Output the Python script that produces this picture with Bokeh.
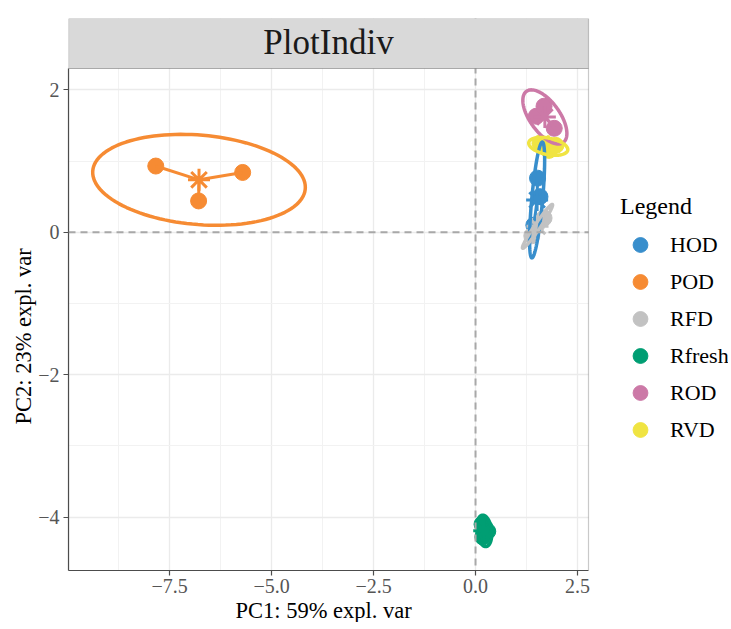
import numpy as np
from bokeh.plotting import figure
from bokeh.models import (Span, Legend, LegendItem, FixedTicker, Label,
                          BoxAnnotation, Title)
from bokeh.embed import file_html
from bokeh.resources import INLINE

# ---------------- data ----------------
groups = ["HOD", "POD", "RFD", "Rfresh", "ROD", "RVD"]
group_colors = ["#388ECC", "#F68B33", "#C2C2C2", "#009E73", "#CC79A7", "#F0E442"]

hod_pc1 = [1.52, 1.58, 1.43]
hod_pc2 = [0.76, 0.50, 0.10]
pod_pc1 = [-7.84, -5.71, -6.79]
pod_pc2 = [0.93, 0.84, 0.44]
rfd_pc1 = [1.68, 1.50, 1.38]
rfd_pc2 = [0.20, 0.10, -0.05]
rfresh_pc1 = [0.16, 0.30, 0.18]
rfresh_pc2 = [-4.10, -4.20, -4.28]
rod_pc1 = [1.49, 1.68, 1.93]
rod_pc2 = [1.63, 1.77, 1.46]
rvd_pc1 = [1.58, 1.80, 1.97]
rvd_pc2 = [1.25, 1.15, 1.22]

pc1_values = [hod_pc1, pod_pc1, rfd_pc1, rfresh_pc1, rod_pc1, rvd_pc1]
pc2_values = [hod_pc2, pod_pc2, rfd_pc2, rfresh_pc2, rod_pc2, rvd_pc2]

x_ticks = [-7.5, -5.0, -2.5, 0.0, 2.5]
x_tick_labels = ["\u22127.5", "\u22125.0", "\u22122.5", "0.0", "2.5"]
x_minor = [-8.75, -6.25, -3.75, -1.25, 1.25]
y_ticks = [2, 0, -2, -4]
y_tick_labels = ["2", "0", "\u22122", "\u22124"]
y_minor = [1, -1, -3]

title_text = "PlotIndiv"
x_title = "PC1: 59% expl. var"
y_title = "PC2: 23% expl. var"

FONT = "Liberation Serif"
ELLIPSE_T = np.sqrt(5.991464547)  # sqrt(qchisq(0.95, 2))

X_LO, X_HI = -9.98, 2.77
Y_LO, Y_HI = -4.75, 2.30
PANEL_W = 520
PANEL_H = 502
STRIP_H = 50
SIDE_W = 140  # room for the legend, right of the panel
Y_TOP = Y_HI + (Y_HI - Y_LO) * STRIP_H / PANEL_H
X_END = X_HI + (X_HI - X_LO) * SIDE_W / PANEL_W
BORDER = "#4D4D4D"


def conf_ellipse(x, y, n=120):
    x = np.asarray(x, float)
    y = np.asarray(y, float)
    c = np.cov(np.vstack([x, y]))
    vals, vecs = np.linalg.eigh(c)
    vals = np.clip(vals, 0, None)
    t = np.linspace(0, 2 * np.pi, n)
    circ = np.vstack([np.cos(t), np.sin(t)])
    pts = vecs @ (np.sqrt(vals)[:, None] * circ) * ELLIPSE_T
    return pts[0] + x.mean(), pts[1] + y.mean()


p = figure(frame_width=PANEL_W + SIDE_W, frame_height=PANEL_H + STRIP_H,
           x_range=(X_LO, X_END), y_range=(Y_LO, Y_TOP),
           output_backend="svg", toolbar_location=None,
           min_border_left=68, min_border_top=18, min_border_right=0,
           min_border_bottom=0, background_fill_color="white",
           border_fill_color="white")

p.outline_line_color = None

for ax in (p.xaxis[0], p.yaxis[0]):
    ax.axis_line_color = BORDER
    ax.axis_line_width = 1.2
    ax.major_tick_line_color = BORDER
    ax.major_tick_line_width = 1.2
    ax.major_tick_out = 5
    ax.major_tick_in = 0
    ax.minor_tick_line_color = None
    ax.major_label_text_font = FONT
    ax.major_label_text_font_size = "20px"
    ax.major_label_text_color = "#555555"

p.xaxis.bounds = (X_LO, X_HI)
p.yaxis.bounds = (Y_LO, Y_HI)
p.xaxis.ticker = FixedTicker(ticks=x_ticks, minor_ticks=x_minor)
p.yaxis.ticker = FixedTicker(ticks=y_ticks, minor_ticks=y_minor)
p.xaxis.major_label_overrides = dict(zip(x_ticks, x_tick_labels))
p.yaxis.major_label_overrides = dict(zip(y_ticks, y_tick_labels))
p.xaxis.major_label_standoff = 3
p.yaxis.major_label_standoff = 4

# axis titles, centred on the panel (not on the legend area)
p.add_layout(Title(text=x_title, align="left", offset=167, standoff=0,
                   text_font=FONT, text_font_size="22.5px",
                   text_font_style="normal", text_color="#000000"), "below")
p.add_layout(Title(text=y_title, align="left", offset=146, standoff=0,
                   text_font=FONT, text_font_size="22.5px",
                   text_font_style="normal", text_color="#000000"), "left")

for g in (p.xgrid[0], p.ygrid[0]):
    g.grid_line_color = "#EBEBEB"
    g.grid_line_width = 1.3
    g.minor_grid_line_color = "#F2F2F2"
    g.minor_grid_line_width = 1.0

p.add_layout(Span(location=0, dimension="height", line_color="#A8A8A8",
                  line_dash="7 5", line_width=2))
p.add_layout(Span(location=0, dimension="width", line_color="#A8A8A8",
                  line_dash="7 5", line_width=2))

legend_items = []
for g, col, xs, ys in zip(groups, group_colors, pc1_values, pc2_values):
    r = p.scatter(xs, ys, size=16, color=col, line_color=col)
    legend_items.append(LegendItem(label=g, renderers=[r]))

for g, col, xs, ys in zip(groups, group_colors, pc1_values, pc2_values):
    cx, cy = float(np.mean(xs)), float(np.mean(ys))
    p.segment(x0=[cx] * len(xs), y0=[cy] * len(ys), x1=xs, y1=ys,
              line_color=col, line_width=3)
    p.scatter([cx], [cy], marker="asterisk", size=22, line_color=col,
              line_width=3)

for g, col, xs, ys in zip(groups, group_colors, pc1_values, pc2_values):
    ex, ey = conf_ellipse(xs, ys)
    p.line(ex, ey, line_color=col, line_width=3.5)

# white area for the legend, right of the panel
p.add_layout(BoxAnnotation(left=X_HI, fill_color="white", fill_alpha=1.0,
                           line_color=None, level="annotation"))

# panel border
p.add_layout(BoxAnnotation(right=X_HI, top=Y_HI, fill_alpha=0.0,
                           line_color=BORDER, line_width=1.2,
                           level="overlay"))
# facet strip (grey header band with title)
p.add_layout(BoxAnnotation(bottom=Y_HI, right=X_HI, fill_color="#D9D9D9",
                           fill_alpha=1.0, line_color=BORDER, line_width=1.2,
                           level="overlay"))
p.add_layout(Label(x=PANEL_W / 2, y=PANEL_H + STRIP_H / 2 + 1, x_units="screen",
                   y_units="screen", text=title_text, text_align="center",
                   text_baseline="middle", text_font=FONT,
                   text_font_size="35px", text_color="#1A1A1A",
                   level="overlay"))

legend = Legend(items=legend_items, title="Legend", location=(552, 122),
                orientation="vertical")
legend.title_text_font = FONT
legend.title_text_font_size = "24px"
legend.title_text_font_style = "normal"
legend.title_text_color = "#000000"
legend.title_standoff = 6
legend.label_text_font = FONT
legend.label_text_font_size = "22px"
legend.label_text_color = "#000000"
legend.glyph_width = 40
legend.glyph_height = 37
legend.label_height = 20
legend.label_standoff = 10
legend.spacing = 0
legend.padding = 4
legend.margin = 0
legend.border_line_color = None
legend.background_fill_color = None
p.add_layout(legend)

open("out.html", "w").write(file_html(p, INLINE))
